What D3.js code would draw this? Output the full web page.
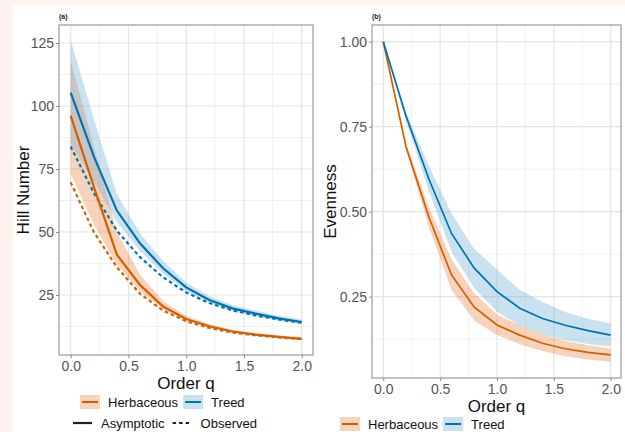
<!DOCTYPE html>
<html>
<head>
<meta charset="utf-8">
<script src="https://cdn.jsdelivr.net/npm/d3@7"></script>
<style>
  body { margin: 0; background: #fdf3ee; }
  svg { display: block; font-family: "Liberation Sans", Arial, sans-serif; }
</style>
</head>
<body>
<div id="chart"></div>
<script>
// order q values used by iNEXT
var orderQ = [0, 0.2, 0.4, 0.6, 0.8, 1.0, 1.2, 1.4, 1.6, 1.8, 2.0];

// (a) Hill numbers
var herbHillAsy = [96.2, 68, 41, 29, 20.4, 15.5, 12.6, 10.5, 9.3, 8.4, 7.6];
var herbHillObs = [69.7, 50, 36, 25.5, 18.8, 14.6, 11.9, 10.1, 9.0, 8.2, 7.5];
var herbHillLo  = [73, 53, 37, 26.5, 19.3, 14.8, 12.0, 10.0, 8.9, 8.0, 7.1];
var herbHillHi  = [118, 84, 50, 33, 22.5, 16.8, 13.5, 11.2, 9.9, 9.0, 8.2];
var treedHillAsy = [105.3, 80, 58.5, 45.5, 35.6, 28, 23, 19.7, 17.6, 15.7, 14.3];
var treedHillObs = [83.9, 65.5, 50.5, 40, 32, 26, 21.8, 18.9, 16.9, 15.3, 14.0];
var treedHillLo  = [85, 70, 54, 42.5, 33.5, 26.5, 21.8, 18.6, 16.5, 14.8, 13.4];
var treedHillHi  = [126, 95, 65, 49.5, 38.5, 30, 24.6, 21, 18.8, 16.8, 15.3];

// (b) evenness
var herbEven   = [1, 0.691, 0.485, 0.314, 0.219, 0.167, 0.137, 0.113, 0.097, 0.086, 0.079];
var herbEvenLo = [1, 0.683, 0.455, 0.27, 0.18, 0.137, 0.11, 0.09, 0.075, 0.065, 0.059];
var herbEvenHi = [1, 0.70, 0.515, 0.36, 0.26, 0.198, 0.165, 0.14, 0.12, 0.107, 0.098];
var treedEven   = [1, 0.781, 0.597, 0.436, 0.334, 0.265, 0.216, 0.186, 0.166, 0.15, 0.137];
var treedEvenLo = [1, 0.77, 0.56, 0.382, 0.275, 0.206, 0.165, 0.14, 0.122, 0.111, 0.103];
var treedEvenHi = [1, 0.793, 0.635, 0.495, 0.39, 0.33, 0.27, 0.235, 0.205, 0.185, 0.172];

// ticks
var qTicks = [0, 0.5, 1, 1.5, 2];
var qMinor = [0.25, 0.75, 1.25, 1.75];
var hillTicks = [25, 50, 75, 100, 125];
var hillMinor = [12.5, 37.5, 62.5, 87.5, 112.5];
var evenTicks = [0.25, 0.5, 0.75, 1];
var evenMinor = [0.125, 0.375, 0.625, 0.875];

var groups = ["Herbaceous", "Treed"];
var lineTypes = ["Asymptotic", "Observed"];

var orange = "#d55e00", blue = "#0072b2";
var orangeFill = "rgba(230,120,50,0.33)", blueFill = "rgba(107,174,214,0.36)";

var svg = d3.select("#chart").append("svg")
    .attr("width", 625)
    .attr("height", 432);

svg.append("rect").attr("width", 625).attr("height", 432).attr("fill", "#fdf3ee");
svg.append("rect").attr("x", 13).attr("y", 5).attr("width", 612).attr("height", 427).attr("fill", "#fff");

function zip(a, b, c) {
    return orderQ.map(function (q, i) { return { q: q, v: a[i], lo: b ? b[i] : null, hi: c ? c[i] : null }; });
}

function panel(cfg) {
    var x = d3.scaleLinear().domain([0, 2]).range(cfg.xr);
    var y = d3.scaleLinear().domain(cfg.yd).range(cfg.yr);
    var g = svg.append("g");

    g.append("clipPath").attr("id", "clip" + cfg.id)
        .append("rect").attr("x", cfg.left).attr("y", cfg.top)
        .attr("width", cfg.right - cfg.left).attr("height", cfg.bottom - cfg.top);

    // grid
    var grid = g.append("g");
    grid.selectAll(".vmin").data(qMinor).enter().append("line")
        .attr("x1", x).attr("x2", x).attr("y1", cfg.top).attr("y2", cfg.bottom)
        .attr("stroke", "#f1f1f1").attr("stroke-width", 1);
    grid.selectAll(".hmin").data(cfg.minor).enter().append("line")
        .attr("y1", y).attr("y2", y).attr("x1", cfg.left).attr("x2", cfg.right)
        .attr("stroke", "#f1f1f1").attr("stroke-width", 1);
    grid.selectAll(".vmaj").data(qTicks).enter().append("line")
        .attr("x1", x).attr("x2", x).attr("y1", cfg.top).attr("y2", cfg.bottom)
        .attr("stroke", "#e4e4e4").attr("stroke-width", 1.2);
    grid.selectAll(".hmaj").data(cfg.ticks).enter().append("line")
        .attr("y1", y).attr("y2", y).attr("x1", cfg.left).attr("x2", cfg.right)
        .attr("stroke", "#e4e4e4").attr("stroke-width", 1.2);

    var plot = g.append("g").attr("clip-path", "url(#clip" + cfg.id + ")");
    var area = d3.area().x(function (d) { return x(d.q); })
        .y0(function (d) { return y(d.lo); }).y1(function (d) { return y(d.hi); });
    var line = d3.line().x(function (d) { return x(d.q); }).y(function (d) { return y(d.v); });

    cfg.bands.forEach(function (b) {
        plot.append("path").datum(b.data).attr("d", area).attr("fill", b.fill);
    });
    cfg.lines.forEach(function (l) {
        plot.append("path").datum(l.data).attr("d", line)
            .attr("fill", "none").attr("stroke", l.color)
            .attr("stroke-width", l.width)
            .attr("stroke-dasharray", l.dash || null);
    });

    g.append("rect").attr("x", cfg.left).attr("y", cfg.top)
        .attr("width", cfg.right - cfg.left).attr("height", cfg.bottom - cfg.top)
        .attr("fill", "none").attr("stroke", "#9a9a9a").attr("stroke-width", 1.2);

    var xa = g.append("g").attr("transform", "translate(0," + cfg.bottom + ")")
        .call(d3.axisBottom(x).tickValues(qTicks).tickFormat(d3.format(".1f"))
            .tickSize(3).tickPadding(3).tickSizeOuter(0));
    var ya = g.append("g").attr("transform", "translate(" + cfg.left + ",0)")
        .call(d3.axisLeft(y).tickValues(cfg.ticks).tickFormat(cfg.fmt)
            .tickSize(3).tickPadding(2).tickSizeOuter(0));
    [xa, ya].forEach(function (a) {
        a.select(".domain").remove();
        a.selectAll("line").attr("stroke", "#8a8a8a");
        a.selectAll("text").attr("fill", "#555").style("font-size", "14px")
            .style("font-family", "'Liberation Sans', Arial, sans-serif");
    });

    g.append("text").attr("x", cfg.left).attr("y", 19)
        .style("font-size", "7px").style("font-weight", "bold").attr("fill", "#222")
        .text(cfg.tag);
    g.append("text").attr("x", (cfg.left + cfg.right) / 2).attr("y", cfg.xTitleY)
        .attr("text-anchor", "middle").style("font-size", "17px").attr("fill", "#111")
        .text("Order q");
    g.append("text")
        .attr("transform", "translate(" + cfg.yTitleX + "," + (cfg.top + cfg.bottom) / 2 + ") rotate(-90)")
        .attr("text-anchor", "middle").style("font-size", "17px").attr("fill", "#111")
        .text(cfg.yTitle);
}

panel({
    id: "a", tag: "(a)", left: 59, right: 313, top: 25, bottom: 355,
    xr: [70.7, 301.7], yd: [0, 125], yr: [358, 43],
    ticks: hillTicks, minor: hillMinor, fmt: d3.format("d"),
    xTitleY: 389, yTitleX: 29, yTitle: "Hill Number",
    bands: [
        { data: zip(herbHillAsy, herbHillLo, herbHillHi), fill: orangeFill },
        { data: zip(treedHillAsy, treedHillLo, treedHillHi), fill: blueFill }
    ],
    lines: [
        { data: zip(herbHillObs), color: orange, width: 2.2, dash: "3.5,3" },
        { data: zip(treedHillObs), color: blue, width: 2.2, dash: "3.5,3" },
        { data: zip(herbHillAsy), color: orange, width: 2.2 },
        { data: zip(treedHillAsy), color: blue, width: 2.2 }
    ]
});

panel({
    id: "b", tag: "(b)", left: 372, right: 621, top: 25, bottom: 378,
    xr: [383.3, 610.7], yd: [0.25, 1], yr: [296.7, 41.7],
    ticks: evenTicks, minor: evenMinor, fmt: d3.format(".2f"),
    xTitleY: 412, yTitleX: 336, yTitle: "Evenness",
    bands: [
        { data: zip(herbEven, herbEvenLo, herbEvenHi), fill: orangeFill },
        { data: zip(treedEven, treedEvenLo, treedEvenHi), fill: blueFill }
    ],
    lines: [
        { data: zip(herbEven), color: orange, width: 1.7 },
        { data: zip(treedEven), color: blue, width: 1.7 }
    ]
});

// legends
function colourKey(x0, y0, items) {
    var cx = x0;
    items.forEach(function (it) {
        svg.append("rect").attr("x", cx).attr("y", y0 - 7).attr("width", 20).attr("height", 14)
            .attr("fill", it.fill);
        svg.append("line").attr("x1", cx + 2).attr("x2", cx + 18).attr("y1", y0).attr("y2", y0)
            .attr("stroke", it.color).attr("stroke-width", 2);
        var t = svg.append("text").attr("x", cx + 28).attr("y", y0 + 5)
            .style("font-size", "13px").attr("fill", "#111").text(it.label);
        cx += 28 + t.node().getComputedTextLength() + 5;
    });
}

colourKey(80, 402, [
    { label: groups[0], fill: orangeFill, color: orange },
    { label: groups[1], fill: blueFill, color: blue }
]);
colourKey(340, 424, [
    { label: groups[0], fill: orangeFill, color: orange },
    { label: groups[1], fill: blueFill, color: blue }
]);

(function () {
    var cx = 73, y0 = 423;
    lineTypes.forEach(function (lab, i) {
        svg.append("line").attr("x1", cx).attr("x2", cx + 19).attr("y1", y0).attr("y2", y0)
            .attr("stroke", "#222").attr("stroke-width", 2.2)
            .attr("stroke-dasharray", i ? "3.5,3" : null);
        var t = svg.append("text").attr("x", cx + 28).attr("y", y0 + 5)
            .style("font-size", "13px").attr("fill", "#111").text(lab);
        cx += 28 + t.node().getComputedTextLength() + 8;
    });
})();
</script>
</body>
</html>
